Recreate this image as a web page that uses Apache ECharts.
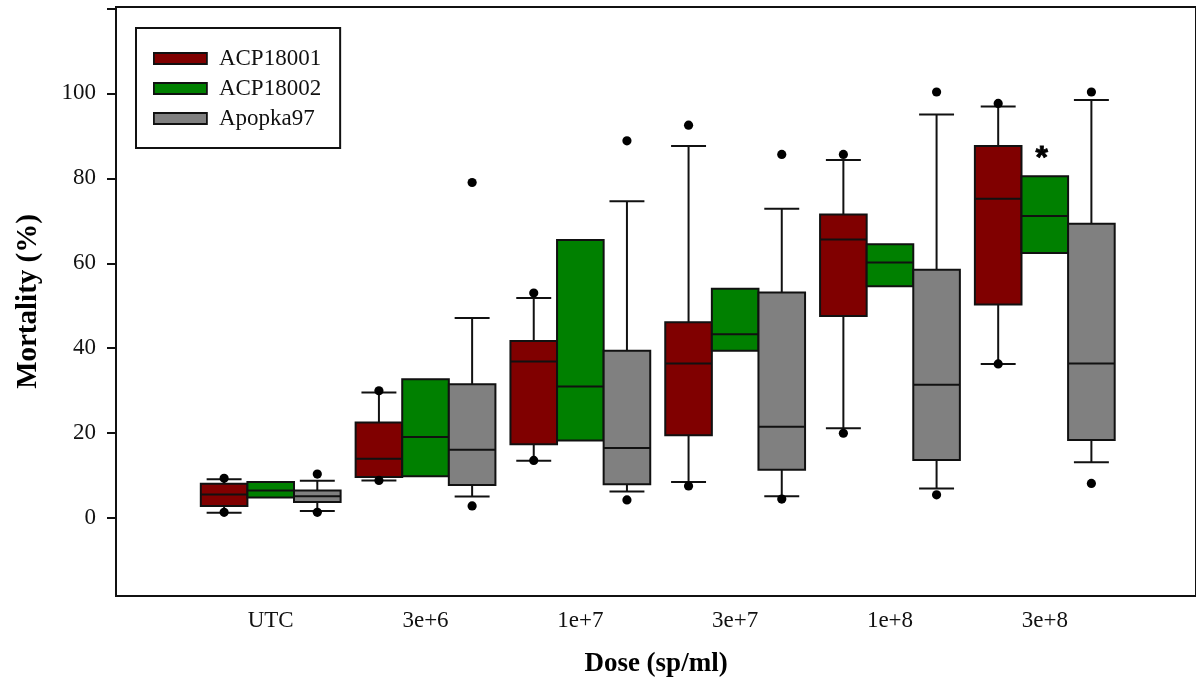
<!DOCTYPE html>
<html><head><meta charset="utf-8">
<script src="https://cdn.jsdelivr.net/npm/echarts@6/dist/echarts.min.js"></script>
<style>html,body{margin:0;padding:0;background:#fff}#chart{width:1196px;height:690px}</style>
</head><body><div id="chart"></div>
<script>
const categories = ['UTC', '3e+6', '1e+7', '3e+7', '1e+8', '3e+8'];
const seriesNames = ['ACP18001', 'ACP18002', 'Apopka97'];
const seriesColors = ['#800000', '#008000', '#808080'];
const yTickValues = [0, 20, 40, 60, 80, 100, 120];
const yLabelValues = [0, 20, 40, 60, 80, 100];

// each row: [whiskerLow, Q1, median, Q3, whiskerHigh]
const acp18001Box = [
  [1.3, 2.9, 5.6, 8.1, 9.2],
  [8.85, 9.7, 14.0, 22.5, 29.6],
  [13.5, 17.4, 36.9, 41.7, 51.8],
  [8.5, 19.5, 36.4, 46.1, 87.6],
  [21.2, 47.6, 65.6, 71.5, 84.3],
  [36.3, 50.3, 75.2, 87.6, 96.9]
];
// each row: [low point, high point]
const acp18001Dots = [
  [1.4, 9.4], [8.9, 30.0], [13.6, 53.0], [7.6, 92.5], [20.0, 85.6], [36.3, 97.6]
];
const acp18002Box = [
  [null, 4.9, 6.5, 8.5, null],
  [null, 9.9, 19.1, 32.7, null],
  [null, 18.3, 31.0, 65.5, null],
  [null, 39.4, 43.3, 54.0, null],
  [null, 54.6, 60.2, 64.5, null],
  [null, 62.4, 71.1, 80.5, null]
];
const apopka97Box = [
  [1.7, 3.8, 5.2, 6.5, 8.8],
  [5.1, 7.8, 16.1, 31.5, 47.1],
  [6.3, 8.0, 16.5, 39.4, 74.6],
  [5.2, 11.4, 21.5, 53.1, 72.8],
  [7.0, 13.7, 31.4, 58.5, 95.0],
  [13.2, 18.4, 36.4, 69.3, 98.4]
];
const apopka97Dots = [
  [1.4, 10.4], [2.9, 79.0], [4.3, 88.8], [4.5, 85.6], [5.5, 100.3], [8.2, 100.3]
];
// significance mark: [category, value, text]
const starMarks = [['3e+8', 84.6, '*']];

const FONT = 'Liberation Serif';
const LW = 2;

function buildData(box, dots) {
  return categories.map(function (c, i) {
    const row = [i].concat(box[i]);
    if (dots) row.push(dots[i][0], dots[i][1]);
    return row;
  });
}

function makeRenderer(slot, color, hasWhisker, hasDots) {
  return function (params, api) {
    const ci = api.value(0);
    const band = api.size([1, 0])[0];
    const boxW = band * 0.301;
    const capW = boxW * 0.75;
    const cx = api.coord([ci, 0])[0] + (slot - 1) * boxW;
    const y = function (v) { return api.coord([ci, v])[1]; };
    const q1 = y(api.value(2)), med = y(api.value(3)), q3 = y(api.value(4));
    const ls = { stroke: '#111', lineWidth: LW };
    const children = [];
    if (hasWhisker) {
      const wl = y(api.value(1)), wh = y(api.value(5));
      children.push({ type: 'line', shape: { x1: cx, y1: q3, x2: cx, y2: wh }, style: ls });
      children.push({ type: 'line', shape: { x1: cx - capW / 2, y1: wh, x2: cx + capW / 2, y2: wh }, style: ls });
      children.push({ type: 'line', shape: { x1: cx, y1: q1, x2: cx, y2: wl }, style: ls });
      children.push({ type: 'line', shape: { x1: cx - capW / 2, y1: wl, x2: cx + capW / 2, y2: wl }, style: ls });
    }
    children.push({ type: 'rect', shape: { x: cx - boxW / 2, y: q3, width: boxW, height: q1 - q3 },
      style: { fill: color, stroke: '#111', lineWidth: LW } });
    children.push({ type: 'line', shape: { x1: cx - boxW / 2, y1: med, x2: cx + boxW / 2, y2: med }, style: ls });
    if (hasDots) {
      [6, 7].forEach(function (d) {
        children.push({ type: 'circle', shape: { cx: cx, cy: y(api.value(d)), r: 4.6 }, style: { fill: '#000' } });
      });
    }
    return { type: 'group', children: children };
  };
}

function makeMarkRenderer() {
  return function (params, api) {
    const p = api.coord([api.value(0), api.value(1)]);
    return {
      type: 'text',
      x: p[0] - 3, y: p[1],
      style: {
        text: starMarks[params.dataIndex][2],
        fill: '#000', stroke: '#000', lineWidth: 0.8,
        font: 'bold 32px "Liberation Sans"',
        align: 'center', verticalAlign: 'middle'
      }
    };
  };
}

const boxSets = [
  { box: acp18001Box, dots: acp18001Dots, whisker: true },
  { box: acp18002Box, dots: null, whisker: false },
  { box: apopka97Box, dots: apopka97Dots, whisker: true }
];

const series = boxSets.map(function (s, k) {
  return {
    name: seriesNames[k],
    type: 'custom',
    xAxisIndex: 1,
    yAxisIndex: 1,
    itemStyle: { color: seriesColors[k] },
    encode: { x: 0, y: [1, 2, 3, 4, 5] },
    data: buildData(s.box, s.dots),
    renderItem: makeRenderer(k, seriesColors[k], s.whisker, !!s.dots)
  };
});

series.push({
  name: 'mark',
  type: 'custom',
  xAxisIndex: 1,
  yAxisIndex: 1,
  silent: true,
  encode: { x: 0, y: 1 },
  data: starMarks.map(function (m) { return [categories.indexOf(m[0]), m[1]]; }),
  renderItem: makeMarkRenderer()
});

const option = {
  animation: false,
  backgroundColor: '#fff',
  grid: [
    { left: 116, right: -5, top: 7, bottom: 94, show: true, borderColor: '#111', borderWidth: 2 },
    { left: 193.3, right: 73.8, top: 7, bottom: 94 }
  ],
  xAxis: [
    { gridIndex: 0, type: 'value', min: 0, max: 1,
      axisLine: { show: false }, axisTick: { show: false }, axisLabel: { show: false }, splitLine: { show: false },
      name: 'Dose (sp/ml)', nameLocation: 'middle', nameGap: 55,
      nameTextStyle: { fontSize: 27, fontWeight: 'bold', color: '#000', fontFamily: FONT } },
    { gridIndex: 1, type: 'category', data: categories,
      axisLine: { show: false }, axisTick: { show: false }, splitLine: { show: false },
      axisLabel: { fontSize: 23, color: '#111', fontFamily: FONT, margin: 13 } }
  ],
  yAxis: [
    { gridIndex: 0, type: 'value', min: -18.3, max: 120.3,
      axisLine: { show: true, lineStyle: { color: '#111', width: 2 } },
      axisTick: { show: true, inside: false, length: 9, customValues: yTickValues, lineStyle: { color: '#111', width: 2 } },
      axisLabel: { customValues: yLabelValues, fontSize: 23, color: '#111', fontFamily: FONT, margin: 20 },
      splitLine: { show: false },
      name: 'Mortality (%)', nameLocation: 'middle', nameGap: 73,
      nameTextStyle: { fontSize: 29, fontWeight: 'bold', color: '#000', fontFamily: FONT } },
    { gridIndex: 1, type: 'value', min: -18.3, max: 120.3, show: false, splitLine: { show: false } }
  ],
  legend: {
    orient: 'vertical', left: 136, top: 28,
    padding: [19, 19, 18, 17],
    borderColor: '#111', borderWidth: 2, backgroundColor: '#fff',
    itemWidth: 53, itemHeight: 11, itemGap: 7,
    icon: 'rect',
    itemStyle: { borderColor: '#111', borderWidth: 1.8 },
    textStyle: { fontSize: 23, color: '#111', fontFamily: FONT, padding: [0, 0, 0, 7] },
    data: seriesNames.map(function (n, k) { return { name: n, itemStyle: { color: seriesColors[k] } }; })
  },
  series: series
};

const chart = echarts.init(document.getElementById('chart'), null, { renderer: 'canvas' });
chart.setOption(option);
</script>
</body></html>
